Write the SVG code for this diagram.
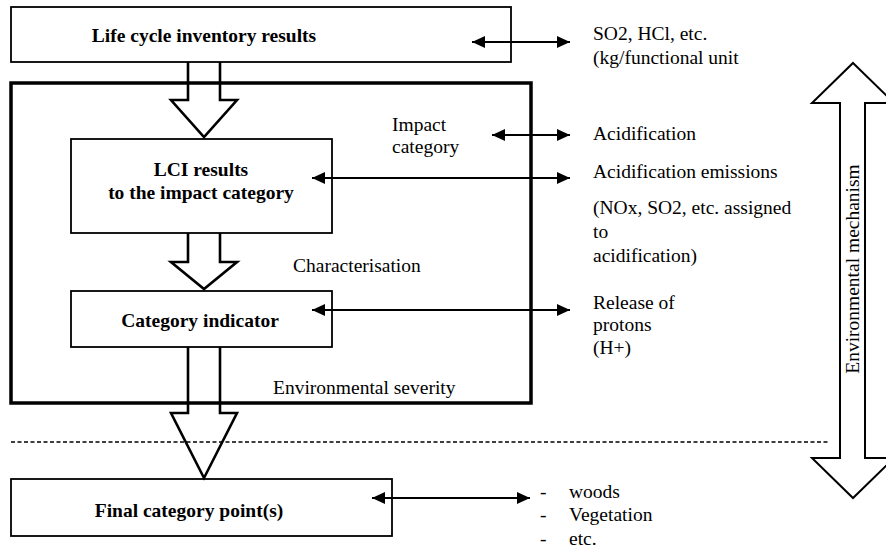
<svg xmlns="http://www.w3.org/2000/svg" width="886" height="549" viewBox="0 0 886 549">
<defs>
<style>
text{font-family:"Liberation Serif","Times New Roman","DejaVu Serif",serif;font-size:19.5px;fill:#000}
.b{font-weight:bold;text-anchor:middle}
.box{fill:#fff;stroke:#000;stroke-width:1.8}
.hol{fill:none;stroke:#000;stroke-width:2.6;stroke-linejoin:miter}
.con{stroke:#000;stroke-width:2;fill:none;marker-start:url(#ah);marker-end:url(#ah)}
</style>
<marker id="ah" viewBox="0 0 13 12" refX="13" refY="6" markerWidth="13" markerHeight="12" markerUnits="userSpaceOnUse" orient="auto-start-reverse">
<path d="M0,0 L13,6 L0,12 Z" fill="#000"/>
</marker>
</defs>
<rect width="886" height="549" fill="#fff"/>

<g font-family="Liberation Serif, Times New Roman, serif">
<g id="frame">
<rect x="11" y="83" width="520" height="320" fill="none" stroke="#000" stroke-width="3.5"/>
</g>

<line x1="11" y1="442" x2="830" y2="442" stroke="#000" stroke-width="1.5" stroke-dasharray="4 2.5"/>

<g id="mechanism">
<polygon points="853,63 894,103 865,103 865,458 894,458 853,498 812,458 840,458 840,103 812,103" fill="#fff" stroke="#000" stroke-width="2"/>
<text transform="translate(859,269) rotate(-90)" text-anchor="middle">Environmental mechanism</text>
</g>

<g id="lci-inventory">
<rect class="box" x="11" y="7" width="500" height="55"/>
<text class="b" x="204" y="42">Life cycle inventory results</text>
</g>

<g id="lci-results">
<rect class="box" x="71" y="139" width="261" height="94"/>
<text class="b" x="201" y="176">LCI results</text>
<text class="b" x="201" y="199">to the impact category</text>
</g>

<g id="category-indicator">
<rect class="box" x="71" y="291" width="261" height="56"/>
<text class="b" x="200" y="327">Category indicator</text>
</g>

<g id="final-point">
<rect class="box" x="11" y="479" width="381" height="57"/>
<text class="b" x="189" y="517">Final category point(s)</text>
</g>

<g id="flow-arrows">
<polyline class="hol" points="188,62 188,100 171,100 204,137 237,100 220,100 220,62"/>
<polyline class="hol" points="188,233 188,262 171,262 204,289 237,262 220,262 220,233"/>
<polyline class="hol" points="188,347 188,413 171,413 204,478 237,413 220,413 220,347"/>
</g>

<g id="connectors">
<line class="con" x1="472" y1="42" x2="570" y2="42"/>
<line class="con" x1="492" y1="135" x2="570" y2="135"/>
<line class="con" x1="312" y1="178" x2="570" y2="178"/>
<line class="con" x1="312" y1="310" x2="570" y2="310"/>
<line class="con" x1="372" y1="498" x2="530" y2="498"/>
</g>

<g id="labels">
<text x="392" y="131">Impact</text>
<text x="392" y="153">category</text>
<text x="293" y="272">Characterisation</text>
<text x="273" y="394">Environmental severity</text>
<text x="593" y="40">SO2, HCl, etc.</text>
<text x="593" y="64">(kg/functional unit</text>
<text x="593" y="140">Acidification</text>
<text x="593" y="178">Acidification emissions</text>
<text x="593" y="214">(NOx, SO2, etc. assigned</text>
<text x="593" y="238">to</text>
<text x="593" y="262">acidification)</text>
<text x="593" y="309">Release of</text>
<text x="593" y="331">protons</text>
<text x="593" y="354">(H+)</text>
<text x="540" y="498">-</text>
<text x="569" y="498">woods</text>
<text x="540" y="521">-</text>
<text x="569" y="521">Vegetation</text>
<text x="540" y="545">-</text>
<text x="569" y="545">etc.</text>
</g>
</g>
</svg>
